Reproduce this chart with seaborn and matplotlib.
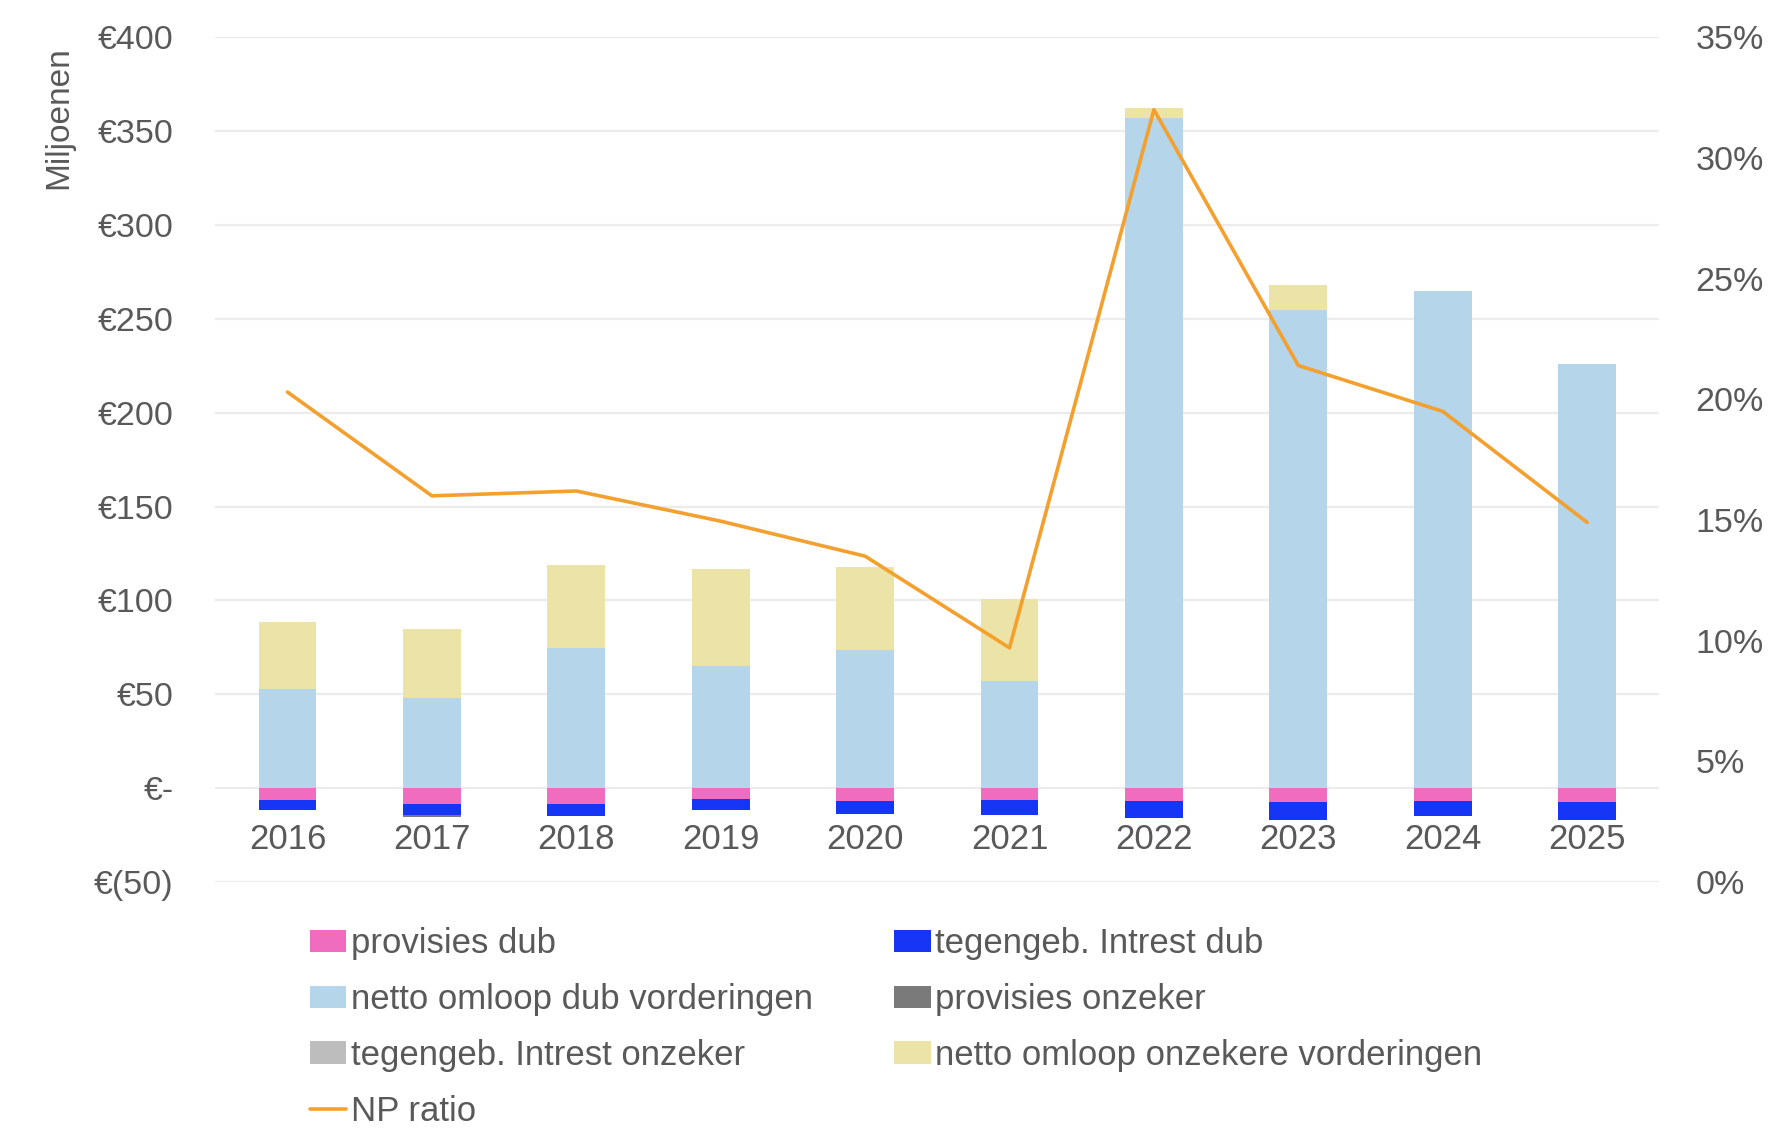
import numpy as np
import matplotlib
matplotlib.use("Agg")
import matplotlib.pyplot as plt
from matplotlib.patches import Patch
from matplotlib.lines import Line2D
from matplotlib.ticker import FuncFormatter, MultipleLocator
import seaborn as sns

# ---------------- data ----------------
years = ['2016', '2017', '2018', '2019', '2020', '2021', '2022', '2023', '2024', '2025']
provisies_dub = [-6.2, -8.5, -8.5, -5.9, -7.1, -6.2, -7.1, -7.5, -6.6, -7.5]
tegengeb_intrest_dub = [-5.3, -5.7, -6.6, -5.7, -6.8, -8.0, -8.9, -9.4, -8.5, -9.4]
netto_omloop_dub = [53, 48, 74.5, 65, 73.5, 57, 357, 254.5, 265, 226]
provisies_onzeker = [0, -1.0, 0, 0, 0, 0, 0, 0, 0, 0]
tegengeb_intrest_onzeker = [0, 0, 0, 0, 0, 0, 0, 0, 0, 0]
netto_omloop_onzeker = [35.5, 37, 44.5, 51.5, 44.5, 44, 5.5, 13.5, 0, 0]
np_ratio = [20.3, 16.0, 16.2, 14.95, 13.5, 9.7, 32.0, 21.4, 19.5, 14.9]

labels = ['provisies dub', 'tegengeb. Intrest dub', 'netto omloop dub vorderingen',
          'provisies onzeker', 'tegengeb. Intrest onzeker', 'netto omloop onzekere vorderingen',
          'NP ratio']
colors = {
    'provisies dub': '#f06cbe',
    'tegengeb. Intrest dub': '#1536f5',
    'netto omloop dub vorderingen': '#b5d5ea',
    'provisies onzeker': '#7a7a7a',
    'tegengeb. Intrest onzeker': '#bdbdbd',
    'netto omloop onzekere vorderingen': '#ece4a6',
    'NP ratio': '#f3a02e',
}

# ---------------- style ----------------
sns.set_theme(style='white')
plt.rcParams['font.family'] = ['Liberation Sans', 'DejaVu Sans']
TXT = '#595959'

fig = plt.figure(figsize=(17.69, 11.30), dpi=100)
ax = fig.add_axes([0.1217, 0.2195, 0.8163, 0.7475])

W = 0.40
pd_ = np.array(provisies_dub)
td_ = np.array(tegengeb_intrest_dub)
po_ = np.array(provisies_onzeker)
to_ = np.array(tegengeb_intrest_onzeker)
nd_ = np.array(netto_omloop_dub)
no_ = np.array(netto_omloop_onzeker)

stack = [
    ('provisies dub', pd_, np.zeros(len(years))),
    ('tegengeb. Intrest dub', td_, pd_),
    ('provisies onzeker', po_, pd_ + td_),
    ('tegengeb. Intrest onzeker', to_, pd_ + td_ + po_),
    ('netto omloop dub vorderingen', nd_, np.zeros(len(years))),
    ('netto omloop onzekere vorderingen', no_, nd_),
]
for name, vals, bottom in stack:
    sns.barplot(x=years, y=vals, bottom=bottom, color=colors[name], saturation=1,
                width=W, errorbar=None, ax=ax, linewidth=0)

ax.set_ylim(-50, 400)
ax.yaxis.set_major_locator(MultipleLocator(50))


def euro(v, pos):
    if abs(v) < 1e-9:
        return '€-'
    if v < 0:
        return f'€({-v:.0f})'
    return f'€{v:.0f}'


ax.yaxis.set_major_formatter(FuncFormatter(euro))
ax.set_axisbelow(True)
ax.yaxis.grid(True, color='#ececec', linewidth=1.6)
ax.xaxis.grid(False)
for s in ax.spines.values():
    s.set_visible(False)
ax.spines['bottom'].set_position(('data', 0))
ax.tick_params(axis='x', length=0, pad=25, labelsize=25, labelcolor=TXT)
ax.tick_params(axis='y', length=0, pad=30, labelsize=24.5, labelcolor=TXT)
ax.set_xlabel('')
ax.set_ylabel('Miljoenen', fontsize=24, color=TXT)
ax.yaxis.set_label_coords(-0.098, 0.905)

# secondary axis
ax2 = ax.twinx()
sns.lineplot(x=np.arange(len(years)), y=np_ratio, ax=ax2, color=colors['NP ratio'],
             linewidth=2.6, legend=False)
ax2.set_ylim(0, 35)
ax2.yaxis.set_major_locator(MultipleLocator(5))
ax2.yaxis.set_major_formatter(FuncFormatter(lambda v, p: f'{v:.0f}%'))
ax2.tick_params(axis='y', length=0, pad=26, labelsize=24.5, labelcolor=TXT)
ax2.set_ylabel('')
for s in ax2.spines.values():
    s.set_visible(False)
ax2.grid(False)
ax.set_xlim(-0.5, len(years) - 0.5)

# legend (row-major order like reference, built column-major for matplotlib)
def handle(name):
    if name == 'NP ratio':
        return Line2D([0], [0], color=colors[name], linewidth=2.6)
    return Patch(facecolor=colors[name], edgecolor='none')

order = ['provisies dub', 'netto omloop dub vorderingen', 'tegengeb. Intrest onzeker', 'NP ratio',
         'tegengeb. Intrest dub', 'provisies onzeker', 'netto omloop onzekere vorderingen']
fig.legend([handle(n) for n in order], order, ncol=2, loc='upper left',
           bbox_to_anchor=(296 / 1769, 1 - 913 / 1130), frameon=False,
           fontsize=25, labelcolor=TXT, handlelength=1.05, handleheight=0.6,
           handletextpad=0.12, columnspacing=2.35, labelspacing=0.66, borderaxespad=0)

fig.savefig('out.png', dpi=100, facecolor='white')
